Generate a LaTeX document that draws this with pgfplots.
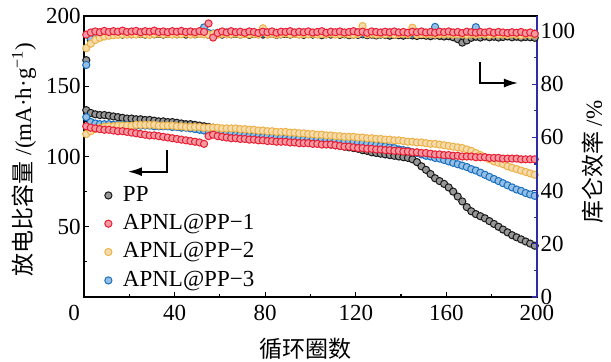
\documentclass[border=0pt]{standalone}
\usepackage{pgfplots}
\pgfplotsset{compat=1.18}
\usepackage{pgfplotstable}
\usepackage{fontspec}
\setmainfont{Liberation Serif}
\newfontfamily\cjk{Noto Sans CJK SC}
\usetikzlibrary{arrows.meta}
\definecolor{ppc}{RGB}{25,25,25}
\definecolor{redc}{RGB}{232,30,50}
\definecolor{yelc}{RGB}{236,178,72}
\definecolor{bluc}{RGB}{24,112,192}
\definecolor{axblue}{RGB}{45,45,165}
\pgfplotsset{
  ser/.style={only marks, mark=*, mark size=1.8pt,
    mark options={draw=#1, fill=#1!45!white, line width=0.5pt}},
}
% discharge capacity (mAh/g)
\pgfplotstableread{
c pp a1 a2 a3
1 133 121.5 116 128
3 131 120.5 118 124.5
5 130 120 119.5 123.5
7 129.5 119.5 120.5 123
9 129.5 119 121 123
11 129 119 121.5 123
13 128.5 118.5 121.5 122.5
15 128 118 122 122.5
17 127.5 118 122 122.5
19 127 117.5 122 122.5
21 127 117 122 122
23 126.5 116.5 122.5 122
25 126.5 116 122.5 122
27 126 115.5 122.5 122
29 126 115 122.5 122
31 125.5 115 122.5 121.5
33 125 114.5 122 121.5
35 125 114 122 121.5
37 124.5 113.5 122 121.5
39 124.5 113 122 121
41 124 112.5 121.5 121
43 123.5 112 121.5 120.5
45 123 111.5 121 120.5
47 123 111 121 120
49 122.5 110.5 121 119.5
51 122 110 121 119
53 121.5 109 120.5 118.5
55 121 114.5 120.5 118
57 120.5 115.5 120.5 117.5
59 120 114.5 120.5 117.5
61 119.5 114 120 117
63 119 113.5 120 116.5
65 118.5 113 120 116
67 118 113 120 115.5
69 117.5 112.5 119.5 115.5
71 117 112.5 119.5 115
73 116.5 112 119 114.5
75 116 112 119 114.5
77 115.5 111.5 118.5 114
79 115 111.5 118.5 114
81 114.5 111 118 114
83 114 111 118 113.5
85 114 110.5 117.5 113.5
87 113.5 110.5 117.5 113.5
89 113 110.5 117.5 113
91 112.5 110 117 113
93 112 110 117 113
95 111.5 109.5 116.5 113
97 111 109.5 116.5 112.5
99 111 109.5 116 112.5
101 110.5 109 116 112.5
103 110 109 115.5 112.5
105 109.5 108.5 115.5 112
107 109 108.5 115 112
109 108.5 108.5 115 112
111 108 108 114.5 111.5
113 107.5 107.5 114.5 111.5
115 107 107 114 111
117 106.5 107 114 111
119 106 106.5 114 110.5
121 105.5 106 113.5 110
123 104.5 106 113.5 109.5
125 104 105.5 113 109
127 103 105.5 113 108.5
129 102.5 105 112.5 108
131 102 105 112.5 107.5
133 101.5 104.5 112 107
135 101 104.5 112 106.5
137 100.5 104 111.5 106
139 100 104 111.5 105
141 99.5 103.5 111 104.5
143 99 103.5 110.5 104
145 98 103 110.5 103
147 96 103 110 102.5
149 93 102.5 110 101.5
151 90.5 102.5 109.5 100.5
153 87.5 102 109 100
155 84.5 101.5 109 99
157 82.5 101.5 108.5 98.5
159 80.5 101 108 97.5
161 78 101 107.5 96.5
163 75 100.5 107 95.5
165 71.5 100.5 106.5 94.5
167 68 100 106 93.5
169 64 100 105 92.5
171 61 100 104 91
173 59 99.5 102.5 90
175 57.5 99.5 101 88.5
177 56 99.5 99.5 87
179 54 99 98 85.5
181 52 99 96.5 84
183 50 99 95.5 82.5
185 48 98.5 94.5 81
187 46 98.5 93 79.5
189 44 98.5 92 78
191 42.5 98.5 91 76.5
193 41 98 90 75.5
195 39.5 98 89 74
197 38 98 88 73
199 36.5 98 87 72
}\capdata
% coulombic efficiency (%)
\pgfplotstableread{
c pp a1 a2 a3
1 89.0 98.6 93.5 87.2
3 96.5 99.4 95.2 97.2
5 98.0 99.8 96.6 98.6
7 98.6 99.5 97.4 99.0
9 98.9 100.0 97.9 99.2
11 98.7 99.6 98.2 98.9
13 99.0 99.9 98.4 99.3
15 98.8 99.7 98.5 99.1
17 98.6 100.1 98.7 99.4
19 98.9 99.6 98.6 99.0
21 98.7 99.8 98.8 99.2
23 99.0 100.0 98.6 99.4
25 98.8 99.5 98.9 99.1
27 98.6 99.9 98.7 99.3
29 98.9 99.7 98.5 99.0
31 98.7 100.1 98.8 99.2
33 98.9 99.6 99.0 99.5
35 98.6 99.8 98.7 99.1
37 98.8 99.5 98.9 99.3
39 99.0 99.9 98.6 99.0
41 98.7 99.7 98.8 99.2
43 98.9 100.0 98.7 99.4
45 98.6 99.6 99.0 99.0
47 98.8 99.8 98.6 99.3
49 98.7 99.5 98.8 99.1
51 99.0 99.9 98.9 99.4
53 98.8 99.6 98.7 101.3
55 98.5 102.8 98.5 99.2
57 98.8 97.5 98.8 99.0
59 98.9 99.2 98.6 99.3
61 98.6 99.8 98.9 99.1
63 98.8 99.4 98.7 99.4
65 98.7 99.9 98.8 99.2
67 98.9 99.5 99.0 99.0
69 98.6 99.7 98.6 99.3
71 98.8 99.3 98.8 99.1
73 98.5 99.8 98.7 99.4
75 98.8 99.6 98.9 99.2
77 98.9 99.2 98.6 99.0
79 98.6 99.7 101.0 99.3
81 98.7 99.5 98.7 99.1
83 98.9 99.8 98.9 99.3
85 98.5 99.3 98.6 99.0
87 98.7 99.7 98.8 99.4
89 98.8 99.6 99.0 99.2
91 98.6 99.9 98.7 99.1
93 98.9 99.4 98.9 99.3
95 98.7 99.7 98.6 99.0
97 98.5 99.5 98.8 99.2
99 98.8 99.8 98.7 99.4
101 98.6 99.4 98.9 99.1
103 98.8 99.6 98.6 99.3
105 98.4 99.9 98.8 99.0
107 98.7 99.3 98.7 99.2
109 98.6 99.7 99.0 99.4
111 98.8 99.5 98.6 99.1
113 98.5 99.8 98.8 99.3
115 98.7 99.4 98.9 99.0
117 98.4 99.6 98.7 99.2
119 98.6 99.9 98.6 99.1
121 98.5 99.5 98.8 99.3
123 98.7 99.7 101.8 99.0
125 98.4 99.3 98.7 99.2
127 98.6 99.8 98.9 99.4
129 98.3 99.6 98.6 99.1
131 98.6 99.4 98.8 99.3
133 98.5 99.7 98.7 99.0
135 98.2 99.5 99.0 99.2
137 98.5 99.8 98.6 99.1
139 98.4 99.4 98.8 99.3
141 98.2 99.6 98.9 99.0
143 98.5 99.3 98.7 99.2
145 98.3 99.7 101.2 99.1
147 98.1 99.5 98.6 99.3
149 98.4 99.8 98.8 99.0
151 98.2 99.4 98.7 99.2
153 98.0 99.6 98.9 99.4
155 98.3 99.3 98.6 101.5
157 98.1 99.7 98.8 99.1
159 97.9 99.5 98.7 99.3
161 98.0 99.8 98.9 99.0
163 97.6 99.4 98.6 99.2
165 96.9 99.6 98.8 99.1
167 95.6 99.2 98.7 98.9
169 96.4 99.7 98.5 99.2
171 97.4 99.5 98.8 99.0
173 97.8 99.3 98.6 101.4
175 97.5 99.6 98.9 99.1
177 97.9 99.4 98.7 98.9
179 97.6 99.7 98.5 99.2
181 97.8 99.3 98.8 99.0
183 97.5 99.6 98.6 99.1
185 97.7 99.4 98.7 98.9
187 97.9 99.2 98.5 99.2
189 97.6 99.5 98.8 99.0
191 97.8 99.3 98.6 98.8
193 97.5 99.6 98.4 99.1
195 97.7 99.1 98.7 98.9
197 97.6 99.4 98.5 98.8
199 97.4 98.9 98.6 99.0
}\cedata
\begin{document}
\fontsize{11.5}{13.8}\selectfont
\begin{tikzpicture}
\path[use as bounding box] (-42pt,-32.5pt) rectangle (263.5pt,148.5pt);
\begin{axis}[
  scale only axis, width=226.5pt, height=140.5pt,
  xmin=0, xmax=200, ymin=0, ymax=200,
  axis line style={line width=1pt},
  tick align=inside,
  major tick length=2.6pt, minor tick length=1.6pt,
  every tick/.style={black, line width=0.6pt},
  xtick pos=bottom, ytick pos=left,
  xtick={0,40,...,200},
  minor xtick={20,60,...,180},
  xticklabels={\makebox[0pt][r]{0\hspace{2.1pt}},40,80,120,160,200},
  ytick={50,100,150,200},
  minor ytick={25,75,125,175},
  yticklabel style={xshift=2.4pt},
  /pgf/number format/assume math mode=true,
  clip=false,
  xlabel={\cjk 循环圈数},
  ylabel={{\cjk 放电比容量} /(mA·h·g\textsuperscript{−1})},
  xlabel style={at={(axis description cs:0.488,-0.185)}, anchor=center},
  ylabel style={at={(axis description cs:-0.1325,0.49)}, anchor=center},
  legend style={draw=none, fill=none, at={(axis description cs:0.045,0.41)},
    anchor=north west, row sep=0.8pt, inner sep=0pt,
    /tikz/every odd column/.append style={column sep=3.5pt}},
  legend cell align=left,
]
\addlegendimage{ser=ppc}\addlegendentry{PP}
\addlegendimage{ser=redc}\addlegendentry{APNL@PP−1}
\addlegendimage{ser=yelc}\addlegendentry{APNL@PP−2}
\addlegendimage{ser=bluc}\addlegendentry{APNL@PP−3}
\addplot[ser=ppc, forget plot] table[x=c, y=pp] {\capdata};
\addplot[ser=bluc, forget plot] table[x=c, y=a3] {\capdata};
\addplot[ser=yelc, forget plot] table[x=c, y=a2] {\capdata};
\addplot[ser=redc, forget plot] table[x=c, y=a1] {\capdata};
\draw[line width=0.9pt, -{Latex[length=7pt,width=4.5pt]}]
  (axis cs:36.6,104.6) -- (axis cs:36.6,89.2) -- (axis cs:19.4,89.2);
\draw[line width=0.9pt, -{Latex[length=7pt,width=4.5pt]}]
  (axis cs:174.8,167.3) -- (axis cs:174.8,152.3) -- (axis cs:191.6,152.3);
\end{axis}
\begin{axis}[
  scale only axis, width=226.5pt, height=140.5pt,
  xmin=0, xmax=200, ymin=0, ymax=105.6,
  axis x line=none,
  axis y line*=right,
  y axis line style={draw=axblue, line width=1pt},
  tick align=inside,
  major tick length=2.6pt, minor tick length=1.6pt,
  every tick/.style={axblue, line width=0.6pt},
  ytick={0,20,...,100},
  minor ytick={10,30,...,90},
  yticklabel style={xshift=-2.2pt},
  /pgf/number format/assume math mode=true,
  clip=false,
  ylabel={{\cjk 库仑效率} /\%},
  ylabel style={at={(axis description cs:1.1236,0.48)}, anchor=center},
]
\addplot[ser=ppc] table[x=c, y=pp] {\cedata};
\addplot[ser=bluc] table[x=c, y=a3] {\cedata};
\addplot[ser=yelc] table[x=c, y=a2] {\cedata};
\addplot[ser=redc] table[x=c, y=a1] {\cedata};
\end{axis}
\end{tikzpicture}
\end{document}
